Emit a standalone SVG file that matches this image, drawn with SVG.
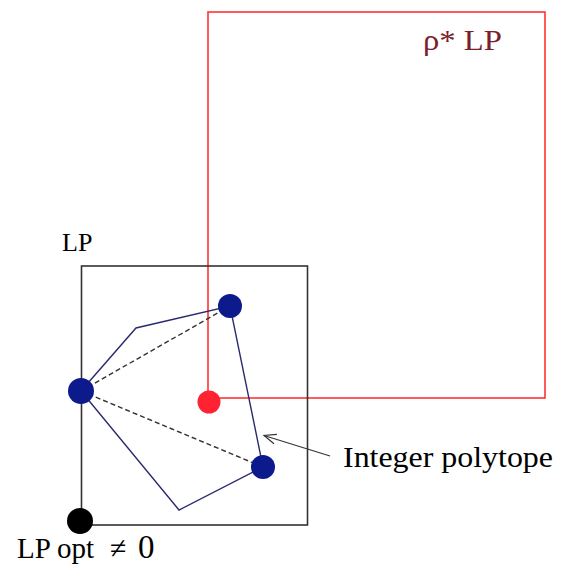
<svg xmlns="http://www.w3.org/2000/svg" width="566" height="565" viewBox="0 0 566 565">
<style>
text{font-family:"Liberation Serif","Times New Roman",serif;}
.box{fill:none;stroke:#333;stroke-width:1.6}
.rbox{fill:none;stroke:#ff3333;stroke-width:1.6}
.edge{fill:none;stroke:#2a2a6e;stroke-width:1.4}
.dash{fill:none;stroke:#333;stroke-width:1.4;stroke-dasharray:5 3}
.blue{fill:#0d1a8c}
</style>
<defs>
<marker id="arr" markerWidth="14" markerHeight="12" refX="13" refY="6" orient="auto" markerUnits="userSpaceOnUse">
<path d="M1,1 L13,6 L1,11" fill="none" stroke="#333" stroke-width="1.2"/>
</marker>
</defs>
<rect width="566" height="565" fill="#fff"/>
<g id="rho-lp">
<rect class="rbox" x="208" y="12" width="337" height="386"/>
<text x="423" y="50" font-size="29" textLength="79" lengthAdjust="spacingAndGlyphs" fill="#7a1f2b">ρ* LP</text>
</g>
<g id="lp">
<rect class="box" x="81.5" y="266" width="226" height="259"/>
<text x="62" y="251" font-size="26" fill="#000">LP</text>
</g>
<g id="connectors">
<polyline class="edge" points="81,391 136,328 230,306 263,467 179,510 81,391"/>
<line class="dash" x1="81" y1="391" x2="230" y2="306"/>
<line class="dash" x1="81" y1="391" x2="263" y2="467"/>
<line x1="330" y1="456" x2="264" y2="435.5" stroke="#333" stroke-width="1.2" marker-end="url(#arr)"/>
</g>
<g id="v-top"><circle class="blue" cx="230" cy="306" r="12"/></g>
<g id="v-left"><circle class="blue" cx="81" cy="391" r="13"/></g>
<g id="v-bottom"><circle class="blue" cx="263" cy="467" r="12"/></g>
<g id="red-point"><circle cx="209" cy="402" r="11.5" fill="#ff2233"/></g>
<g id="lp-opt">
<circle cx="80" cy="521" r="13" fill="#000"/>
<text x="17" y="558" font-size="29" fill="#000">LP opt</text>
<text x="110" y="558" font-size="30" fill="#000">≠</text>
<text x="138" y="558" font-size="33" fill="#000">0</text>
</g>
<g id="label-integer">
<text x="343" y="467" font-size="29" textLength="210" lengthAdjust="spacingAndGlyphs" fill="#000">Integer polytope</text>
</g>
</svg>
